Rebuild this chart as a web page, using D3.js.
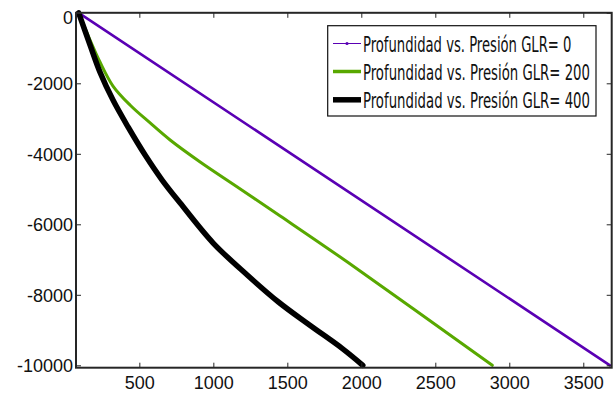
<!DOCTYPE html>
<html>
<head>
<meta charset="utf-8">
<script src="https://cdn.jsdelivr.net/npm/d3@7"></script>
<style>
  html, body { margin: 0; padding: 0; background: #fff; }
  svg { display: block; }
</style>
</head>
<body>
<svg id="chart" width="613" height="394"></svg>
<script>
// ---- Data (pressure, depth) ----
const pressureGLR0 = [90, 3680];
const depthGLR0    = [0, -10000];

const pressureGLR200 = [90, 167, 234, 322, 437, 573, 708, 911, 1182, 1452, 1906, 2885];
const depthGLR200    = [0, -772, -1396, -2077, -2616, -3126, -3609, -4233, -4999, -5765, -7070, -10000];

const pressureGLR400 = [90, 167, 234, 322, 424, 539, 654, 776, 999, 1229, 1440, 1650, 1870, 2010];
const depthGLR400    = [0, -914, -1682, -2476, -3240, -4035, -4744, -5396, -6531, -7438, -8204, -8857, -9520, -10000];

const seriesNames = [
  "Profundidad vs. Presión GLR= 0",
  "Profundidad vs. Presión GLR= 200",
  "Profundidad vs. Presión GLR= 400"
];
const xTicks = [500, 1000, 1500, 2000, 2500, 3000, 3500];
const yTicks = [0, -2000, -4000, -6000, -8000, -10000];

// ---- Layout ----
const svg = d3.select("#chart");
const mLeft = 76, mRight = 611.7, mTop = 12.8, mBottom = 367.7;

const x = d3.scaleLinear().domain([72, 3692]).range([mLeft, mRight]);
const y = d3.scaleLinear().domain([-10068, 0]).range([mBottom, mTop]);

const series = [
  { name: seriesNames[0], p: pressureGLR0, d: depthGLR0, color: "#5a00b4", width: 2.6, legendWidth: 1, marker: true },
  { name: seriesNames[1], p: pressureGLR200, d: depthGLR200, color: "#58a800", width: 3, legendWidth: 3.5, marker: false },
  { name: seriesNames[2], p: pressureGLR400, d: depthGLR400, color: "#000000", width: 5.5, legendWidth: 5.5, marker: false }
];

const line = d3.line().x(d => x(d[0])).y(d => y(d[1])).curve(d3.curveCatmullRom.alpha(0.5));

// ---- Lines ----
series.forEach(s => {
  const pts = s.p.map((v, i) => [v, s.d[i]]);
  svg.append("path")
    .datum(pts)
    .attr("d", line)
    .attr("fill", "none")
    .attr("stroke", s.color)
    .attr("stroke-width", s.width)
    .attr("stroke-linejoin", "round")
    .attr("stroke-linecap", "round");
});

// ---- Axes (box with inward ticks) ----
const axisColor = "#262626";
const fontFamily = "'Liberation Sans', Arial, sans-serif";
const fmt = d => String(d);

const xAxisB = d3.axisBottom(x).tickValues(xTicks).tickSize(-5).tickPadding(9).tickFormat(fmt);
const xAxisT = d3.axisTop(x).tickValues(xTicks).tickSize(-5).tickFormat("");
const yAxisL = d3.axisLeft(y).tickValues(yTicks).tickSize(-5).tickPadding(9).tickFormat(fmt);
const yAxisR = d3.axisRight(y).tickValues(yTicks).tickSize(-5).tickFormat("");

function styleAxis(g) {
  g.select(".domain").remove();
  g.selectAll(".tick line").attr("stroke", axisColor).attr("stroke-width", 1);
  g.selectAll(".tick text").attr("fill", "#111").style("font-family", fontFamily).style("font-size", "18px");
}

const gB = svg.append("g").attr("transform", `translate(0,${mBottom})`).call(xAxisB).call(styleAxis);
gB.selectAll(".tick text").attr("dy", "0.71em").attr("y", 9);
svg.append("g").attr("transform", `translate(0,${mTop})`).call(xAxisT).call(styleAxis);
const gL = svg.append("g").attr("transform", `translate(${mLeft},0)`).call(yAxisL).call(styleAxis);
gL.selectAll(".tick text").attr("x", -3).attr("dy", "0.35em")
  .filter(d => d === 0).attr("dy", "0.58em");
svg.append("g").attr("transform", `translate(${mRight},0)`).call(yAxisR).call(styleAxis);

svg.append("rect")
  .attr("x", mLeft).attr("y", mTop)
  .attr("width", mRight - mLeft).attr("height", mBottom - mTop)
  .attr("fill", "none").attr("stroke", axisColor).attr("stroke-width", 2);

// ---- Legend ----
const lg = svg.append("g");
lg.append("rect")
  .attr("x", 327.7).attr("y", 25.7).attr("width", 268.3).attr("height", 90.3)
  .attr("fill", "#fff").attr("stroke", "#111").attr("stroke-width", 1.2);

const rowsLineY = [43.5, 71.5, 99.8];
const rowsTextY = [51.7, 80, 108.3];
const textLens = [208.7, 227, 227];
series.forEach((s, i) => {
  lg.append("line")
    .attr("x1", 333).attr("x2", 361)
    .attr("y1", rowsLineY[i]).attr("y2", rowsLineY[i])
    .attr("stroke", s.color).attr("stroke-width", s.legendWidth);
  if (s.marker) {
    lg.append("circle").attr("cx", 347).attr("cy", rowsLineY[i]).attr("r", 1.6).attr("fill", s.color);
  }
  const t = lg.append("text")
    .attr("x", 0).attr("y", 0)
    .style("font-family", "'DejaVu Sans Condensed', 'DejaVu Sans', sans-serif")
    .style("font-size", "20.5px")
    .attr("fill", "#111")
    .text(s.name);
  const natural = t.node().getComputedTextLength();
  const sx = textLens[i] / natural;
  t.attr("transform", `translate(363,${rowsTextY[i]}) scale(${sx},1)`);
});
</script>
</body>
</html>
